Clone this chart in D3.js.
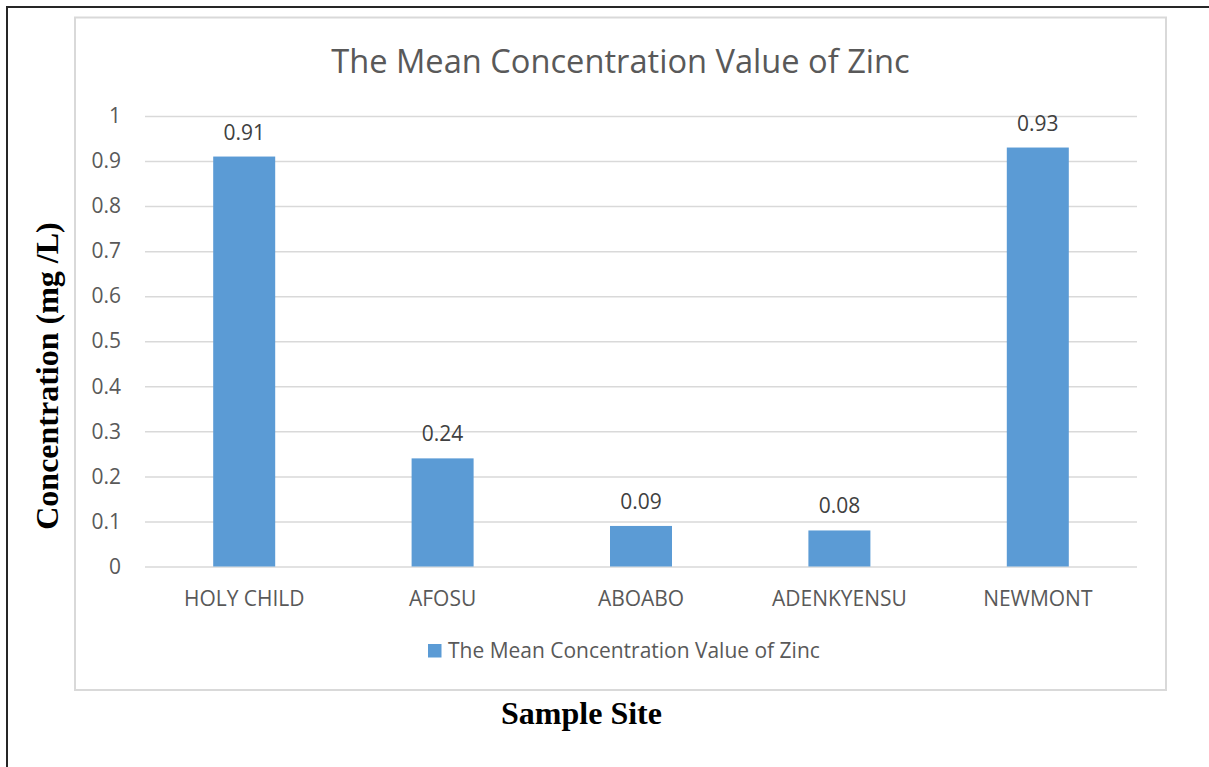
<!DOCTYPE html>
<html>
<head>
<meta charset="utf-8">
<script src="https://cdn.jsdelivr.net/npm/d3@7"></script>
<style>
  body { margin: 0; background: #fff; }
  svg { display: block; }
</style>
</head>
<body>
<div id="chart"></div>
<script>
(function() {
    // Values
    var sites = ['HOLY CHILD', 'AFOSU', 'ABOABO', 'ADENKYENSU', 'NEWMONT'];
    var zinc = [0.91, 0.24, 0.09, 0.08, 0.93];
    var yTicks = [0, 0.1, 0.2, 0.3, 0.4, 0.5, 0.6, 0.7, 0.8, 0.9, 1];
    var seriesName = 'The Mean Concentration Value of Zinc';

    var width = 1209;
    var height = 767;
    var plot = { left: 145, right: 1137, top: 116, bottom: 566.5 };
    var labelFont = '"Open Sans", sans-serif';
    var grey = '#595959';

    var svg = d3.select('#chart')
        .append('svg')
        .attr('width', width)
        .attr('height', height);

    // page frame (only left and top edges show)
    svg.append('path')
        .attr('d', 'M7,' + height + 'V7H' + width)
        .attr('fill', 'none')
        .attr('stroke', '#262626')
        .attr('stroke-width', 2);

    // chart area border
    svg.append('rect')
        .attr('x', 75).attr('y', 17.5)
        .attr('width', 1091).attr('height', 672.5)
        .attr('fill', '#fff')
        .attr('stroke', '#d9d9d9')
        .attr('stroke-width', 2);

    // work out a font size so the legend text is as wide as in the picture
    var probe = svg.append('text')
        .style('font-family', labelFont)
        .style('font-size', '20px')
        .text(seriesName);
    var baseSize = 20 * 372 / probe.node().getComputedTextLength();
    probe.remove();

    var xScale = d3.scaleBand()
        .domain(sites)
        .range([plot.left, plot.right])
        .paddingInner(0.6875)
        .paddingOuter(0.34375);

    var yScale = d3.scaleLinear()
        .domain([0, 1])
        .range([plot.bottom, plot.top]);

    // gridlines + left tick labels
    var yAxis = svg.append('g')
        .attr('transform', `translate(${plot.left}, 0)`)
        .call(d3.axisLeft(yScale)
            .tickValues(yTicks)
            .tickFormat(d3.format('~g'))
            .tickSize(-(plot.right - plot.left))
            .tickPadding(24));
    yAxis.select('.domain').remove();
    yAxis.selectAll('line')
        .attr('stroke', '#d9d9d9')
        .attr('stroke-width', 1.5);
    yAxis.selectAll('text')
        .attr('fill', grey)
        .style('font-family', labelFont)
        .style('font-size', baseSize + 'px');

    // category labels
    var xAxis = svg.append('g')
        .attr('transform', `translate(0, ${plot.bottom})`)
        .call(d3.axisBottom(xScale).tickSize(0).tickPadding(25));
    xAxis.select('.domain').remove();
    xAxis.selectAll('text')
        .attr('fill', grey)
        .style('font-family', labelFont)
        .style('font-size', baseSize + 'px');

    // bars
    svg.append('g')
        .selectAll('rect')
        .data(zinc)
        .enter()
        .append('rect')
        .attr('x', (d, i) => xScale(sites[i]))
        .attr('y', d => yScale(d))
        .attr('width', xScale.bandwidth())
        .attr('height', d => yScale(0) - yScale(d))
        .attr('fill', '#5b9bd5');

    // data labels
    svg.append('g')
        .selectAll('text')
        .data(zinc)
        .enter()
        .append('text')
        .attr('x', (d, i) => xScale(sites[i]) + xScale.bandwidth() / 2)
        .attr('y', d => yScale(d) - 17)
        .attr('text-anchor', 'middle')
        .attr('fill', '#404040')
        .style('font-family', labelFont)
        .style('font-size', baseSize + 'px')
        .text(d => d);

    // title
    svg.append('text')
        .attr('x', 620.5)
        .attr('y', 73)
        .attr('text-anchor', 'middle')
        .attr('fill', grey)
        .style('font-family', labelFont)
        .style('font-size', (baseSize * 14 / 9) + 'px')
        .text(seriesName);

    // legend
    svg.append('rect')
        .attr('x', 428).attr('y', 644)
        .attr('width', 13.5).attr('height', 13.5)
        .attr('fill', '#5b9bd5');
    svg.append('text')
        .attr('x', 448)
        .attr('y', 657.5)
        .attr('fill', grey)
        .style('font-family', labelFont)
        .style('font-size', baseSize + 'px')
        .text(seriesName);

    // axis titles
    svg.append('text')
        .attr('transform', 'translate(58, 376) rotate(-90)')
        .attr('text-anchor', 'middle')
        .style('font-family', '"Liberation Serif", "Times New Roman", serif')
        .style('font-weight', 'bold')
        .style('font-size', '32px')
        .text('Concentration (mg /L)');

    svg.append('text')
        .attr('x', 581.5)
        .attr('y', 724)
        .attr('text-anchor', 'middle')
        .style('font-family', '"Liberation Serif", "Times New Roman", serif')
        .style('font-weight', 'bold')
        .style('font-size', '32px')
        .text('Sample Site');
})();
</script>
</body>
</html>
